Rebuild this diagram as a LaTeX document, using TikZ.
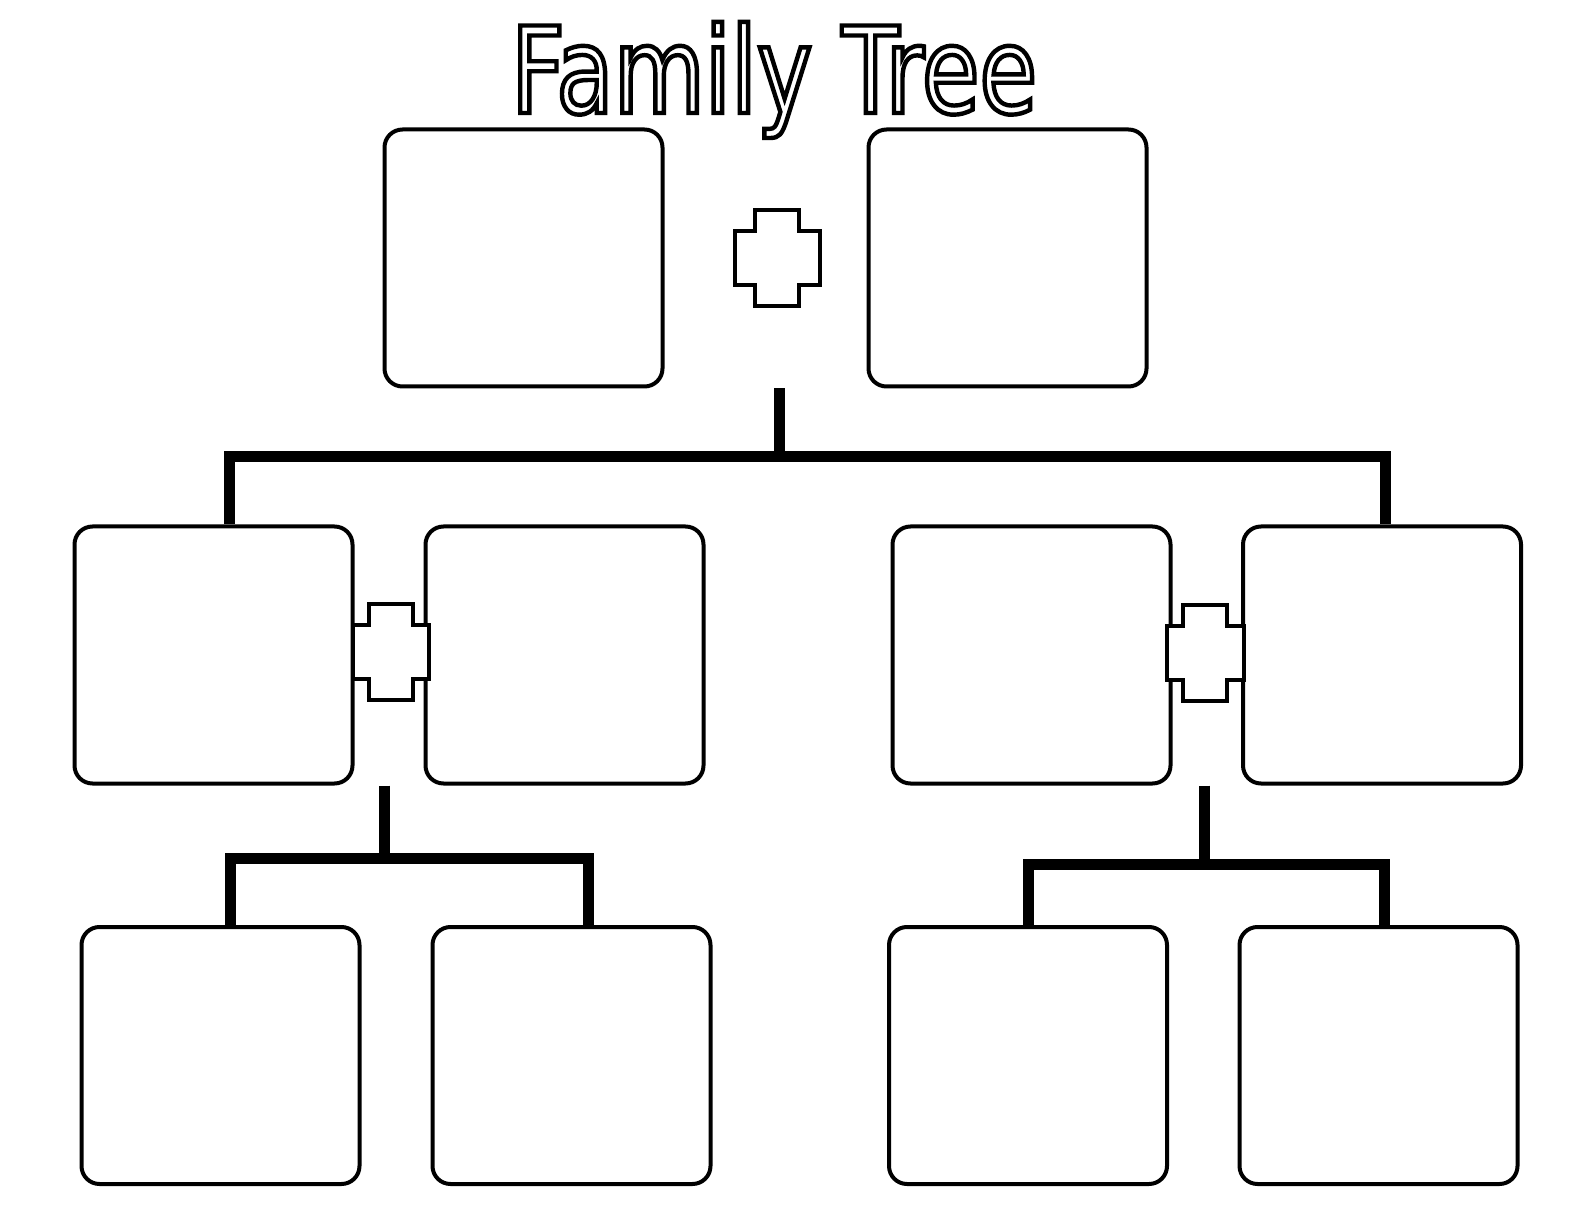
\documentclass[tikz,border=0pt]{standalone}
\usepackage{fontspec}
\usepackage{tikz}
\usetikzlibrary{calc}
\newfontfamily\titlefont[FakeStretch=0.78]{DejaVu Sans}

\tikzset{
	person/.style={draw, line width=2pt, rounded corners=9pt, fill=white,
		minimum width=139pt, minimum height=128.5pt, inner sep=0pt},
	bond/.style={line width=5.5pt, line join=miter},
	joiner/.style={draw, line width=2pt, fill=white, line join=miter},
}

% cross between two partners: centre x, centre y, half length of the bar
\newcommand{\plusmark}[3]{
	\draw[joiner] (#1-22,#2-48) -- (#1+22,#2-48) -- (#1+22,#2-27) -- (#1+#3,#2-27)
		-- (#1+#3,#2+27) -- (#1+22,#2+27) -- (#1+22,#2+48) -- (#1-22,#2+48)
		-- (#1-22,#2+27) -- (#1-#3,#2+27) -- (#1-#3,#2-27) -- (#1-22,#2-27) -- cycle;
}

\begin{document}
\begin{tikzpicture}[x=0.5pt, y=-0.5pt]
	\def\rowOne{258};
	\def\rowTwo{655};
	\def\rowThree{1055.5};

	\fill[white] (0,0) rectangle (1584,1224);
	\useasboundingbox (0,0) rectangle (1584,1224);

	\node[font=\titlefont\fontsize{60}{72}\selectfont, anchor=base, inner sep=0pt] (title) at (774,113)
		{\special{pdf:literal direct 1 Tr 2.2 w}Family Tree\special{pdf:literal direct 0 Tr}};

	% grandparents
	\begin{scope}
		\node[person] (gp1) at (523.5,\rowOne) {};
		\node[person] (gp2) at (1007.5,\rowOne) {};
		\plusmark{777}{258}{42.5}
	\end{scope}

	% parents
	\begin{scope}
		\node[person] (p1) at (213.5,\rowTwo) {};
		\node[person] (p2) at (564.5,\rowTwo) {};
		\node[person] (p3) at (1031.5,\rowTwo) {};
		\node[person] (p4) at (1382,\rowTwo) {};
		\plusmark{391}{652}{38}
		\plusmark{1205}{653}{38.5}
	\end{scope}

	% children
	\begin{scope}
		\node[person] (c1) at (220.5,\rowThree) {};
		\node[person] (c2) at (571.5,\rowThree) {};
		\node[person] (c3) at (1028,\rowThree) {};
		\node[person] (c4) at (1378.5,\rowThree) {};
	\end{scope}

	\coordinate (j0) at (779,457);
	\coordinate (j0l) at (229.5,457);
	\coordinate (j0r) at (1385,457);
	\coordinate (j1) at (384,858);
	\coordinate (j1l) at (230,858);
	\coordinate (j1r) at (588,858);
	\coordinate (j2) at (1204,864);
	\coordinate (j2l) at (1028,864);
	\coordinate (j2r) at (1384.5,864);

	\begin{scope}[bond]
		\draw (gp1.south -| j0) -- (j0);
		\draw (p1.north -| j0l) -- (j0l) -- (j0r) -- (p4.north -| j0r);
		\draw (p1.south -| j1) -- (j1);
		\draw (c1.north -| j1l) -- (j1l) -- (j1r) -- (c2.north -| j1r);
		\draw (p3.south -| j2) -- (j2);
		\draw (c3.north -| j2l) -- (j2l) -- (j2r) -- (c4.north -| j2r);
	\end{scope}
\end{tikzpicture}
\end{document}
